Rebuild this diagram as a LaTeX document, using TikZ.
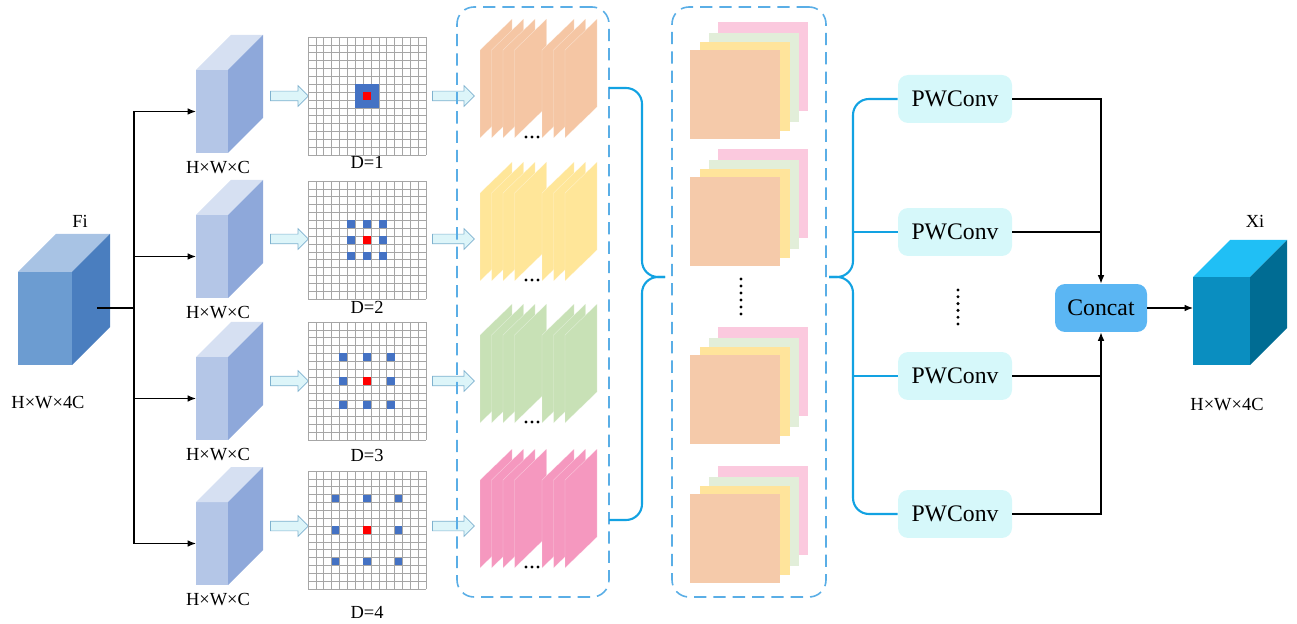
\documentclass[tikz,border=0pt]{standalone}
\usepackage{fontspec}
\setmainfont{Liberation Serif}
\usepackage{tikz}
\usetikzlibrary{positioning,arrows.meta,shapes.arrows}

\definecolor{inF}{HTML}{6C9CD1}
\definecolor{inT}{HTML}{A8C3E4}
\definecolor{inS}{HTML}{4A7EBF}
\definecolor{slF}{HTML}{B4C6E7}
\definecolor{slT}{HTML}{D6E0F2}
\definecolor{slS}{HTML}{8EA8DA}
\definecolor{outF}{HTML}{0A8EC0}
\definecolor{outT}{HTML}{20BFF5}
\definecolor{outS}{HTML}{006C93}
\definecolor{cellBlue}{HTML}{4472C4}
\definecolor{arrFill}{HTML}{DDF5F9}
\definecolor{arrEdge}{HTML}{7FB2CF}
\definecolor{dashBlue}{HTML}{5AAEE6}
\definecolor{braceBlue}{HTML}{12A2E2}
\definecolor{pwFill}{HTML}{D6F8FA}
\definecolor{ccFill}{HTML}{5BB6F3}
\definecolor{shPeach}{HTML}{F5C6A4}
\definecolor{shYellow}{HTML}{FFE699}
\definecolor{shGreen}{HTML}{C8E1B6}
\definecolor{shPink}{HTML}{F598BF}
\definecolor{stPeach}{HTML}{F5CAAA}
\definecolor{stYellow}{HTML}{FFE49B}
\definecolor{stGreen}{HTML}{E2EED9}
\definecolor{stPink}{HTML}{FBC9DE}

% cube: name, x, y (front top-left), w, h, depth, front, top, side
\newcommand{\drawcube}[9]{%
  \node[cubeface, fill=#7, minimum width=#4*0.02cm, minimum height=#5*0.02cm,
        anchor=north west] (#1) at (#2,#3) {};
  \fill[#8] (#1.north west) -- ++(#6,-#6) -- ++(#4,0) -- (#1.north east) -- cycle;
  \fill[#9] (#1.north east) -- ++(#6,-#6) -- ++(0,#5) -- (#1.south east) -- cycle;
}

\begin{document}
\begin{tikzpicture}[
  x=0.02cm, y=-0.02cm,
  cubeface/.style={inner sep=0pt, outer sep=0pt, draw=none},
  lbl/.style={font=\fontsize{10.5}{12}\selectfont, inner sep=1pt},
  line/.style={draw=black, line width=0.7pt},
  arr/.style={line, -{Latex[length=4.8pt,width=3.8pt]}},
  gridline/.style={draw=gray!70, line width=0.3pt},
  hollow/.style={single arrow, draw=arrEdge, fill=arrFill, line width=0.4pt,
    inner xsep=0pt, inner ysep=0.09cm, outer sep=0pt,
    single arrow head extend=0.11cm},
  sheet/.style={draw=white, draw opacity=0.5, line width=0.2pt},
  dashbox/.style={draw=dashBlue, line width=0.9pt, dash pattern=on 7pt off 4pt,
    rounded corners=0.34cm, inner sep=0pt, outer sep=0pt},
  brace/.style={draw=braceBlue, line width=1.2pt, rounded corners=0.32cm},
  pwbox/.style={fill=pwFill, rounded corners=0.2cm, minimum width=2.28cm,
    minimum height=0.96cm, font=\fontsize{13.5}{16}\selectfont},
  ccbox/.style={fill=ccFill, rounded corners=0.2cm, minimum width=1.84cm,
    minimum height=0.96cm, font=\fontsize{13.5}{16}\selectfont}
]
\useasboundingbox (0,0) rectangle (1297,624);

% Input feature
\drawcube{in}{18}{272}{54}{93}{38}{inF}{inT}{inS}
\node[lbl] (fi) at (80,221) {Fi};
\node[lbl] (inlab) at (48,403) {H×W×4C};
\coordinate (inR) at (97,308);
\coordinate (trunk) at (134,308);
\draw[line] (inR) -- (trunk);

% Four dilated branches
\foreach \r/\ct/\ay/\gy/\dy/\col/\yb in
  {1/70/96/37/162/shPeach/138, 2/215/239/181/307/shYellow/281,
   3/357/381/322/455/shGreen/423, 4/502/526/471/612/shPink/568} {
  \drawcube{s\r}{196}{\ct}{32}{83}{35}{slF}{slT}{slS}
  \node[lbl] (slab\r) at (218,\ct+98) {H×W×C};
  \draw[arr] (trunk) |- (s\r.west);
  \node[hollow, minimum height=38*0.02cm] (ha\r) at (287,\ay) {};
  % grid
  \foreach \i in {0,...,15} {
    \draw[gridline] (308+\i*7.867,\gy) -- ++(0,118);
    \draw[gridline] (308,\gy+\i*7.867) -- ++(118,0);
  }
  \foreach \a in {-1,0,1}
    \foreach \b in {-1,0,1}
      \fill[cellBlue] (308+7*7.867+\a*\r*7.867,\gy+7*7.867+\b*\r*7.867) rectangle ++(7.867,7.867);
  \fill[red] (308+7*7.867,\gy+7*7.867) rectangle ++(7.867,7.867);
  \node[lbl] (dlab\r) at (367,\dy) {D=\r};
  \node[hollow, minimum height=42*0.02cm] (hb\r) at (451,\ay) {};
  % feature maps
  \foreach \xs in {480,491.5,503,514.5,542,553.5,565}
    \filldraw[sheet, fill=\col] (\xs,\yb) -- ++(0,-88) -- ++(32,-31) -- ++(0,88) -- cycle;
  \foreach \xd in {526,532,538}
    \fill (\xd,\yb-1) circle (0.95pt);
}

% Group boxes
\node[dashbox, minimum width=152*0.02cm, minimum height=590*0.02cm] (grpA) at (533,302) {};
\node[dashbox, minimum width=154*0.02cm, minimum height=590*0.02cm] (grpB) at (749,302) {};

% Stacked maps
\foreach \fy in {50,177,355,494} {
  \fill[stPink] (718,\fy-28) rectangle ++(90,89);
  \fill[stGreen] (709,\fy-17) rectangle ++(90,89);
  \fill[stYellow] (700,\fy-8) rectangle ++(90,89);
  \fill[stPeach] (690,\fy) rectangle ++(90,89);
}
\foreach \k in {0,...,5}
  \fill (741,279+\k*7) circle (0.95pt);

% Braces
\coordinate (bA1) at (609,88);
\coordinate (bA2) at (609,520);
\coordinate (tipA) at (665,277);
\draw[brace] (bA1) -- (642,88) -- (642,277) -- (tipA);
\draw[brace] (bA2) -- (642,520) -- (642,277) -- (tipA);

% Pointwise convs
\node[pwbox] (pw1) at (955,99) {PWConv};
\node[pwbox] (pw2) at (955,232) {PWConv};
\node[pwbox] (pw3) at (955,376) {PWConv};
\node[pwbox] (pw4) at (955,514) {PWConv};
\foreach \k in {0,...,5}
  \fill (958,290+\k*6.8) circle (0.95pt);

\coordinate (tipB) at (829,277);
\coordinate (spine) at (853,277);
\draw[brace] (tipB) -- (spine) |- (pw1.west);
\draw[brace] (tipB) -- (spine) |- (pw4.west);
\draw[brace] (spine |- pw2.west) -- (pw2.west);
\draw[brace] (spine |- pw3.west) -- (pw3.west);

% Concat and output
\node[ccbox] (cc) at (1101,308) {Concat};
\draw[arr] (pw1.east) -| (cc.north);
\draw[arr] (pw4.east) -| (cc.south);
\draw[line] (pw2.east) -- (pw2.east -| cc.north);
\draw[line] (pw3.east) -- (pw3.east -| cc.south);

\drawcube{out}{1193}{277}{57}{88}{37}{outF}{outT}{outS}
\node[lbl] (xi) at (1255,221) {Xi};
\node[lbl] (outlab) at (1227,405) {H×W×4C};
\draw[arr] (cc.east) -- (cc.east -| out.west);

\end{tikzpicture}
\end{document}
